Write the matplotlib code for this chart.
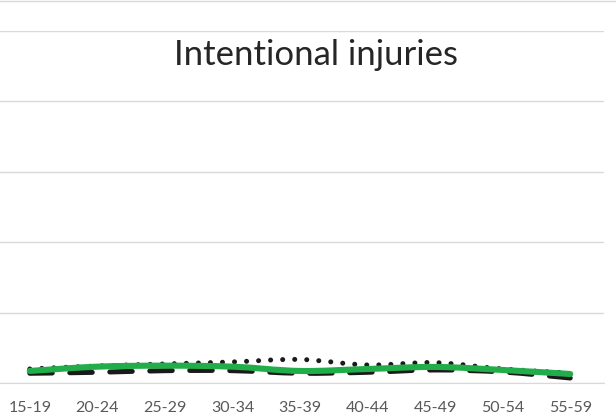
import numpy as np
import matplotlib
matplotlib.use("Agg")
import matplotlib.pyplot as plt
from matplotlib.path import Path
from matplotlib.patches import PathPatch

categories = ["15-19", "20-24", "25-29", "30-34", "35-39", "40-44", "45-49", "50-54", "55-59"]
series_dotted = [2.03, 2.46, 2.74, 3.03, 3.38, 2.60, 2.93, 2.03, 1.46]
series_dashed = [1.42, 1.56, 1.79, 1.79, 1.42, 1.56, 1.89, 1.60, 0.75]
series_green = [1.75, 2.36, 2.50, 2.36, 1.75, 2.03, 2.32, 1.89, 1.32]
y_ticks = [0, 10, 20, 30, 40, 50]
title = "Intentional injuries"


def smooth_path(xs, ys):
    xs = np.asarray(xs, float)
    ys = np.asarray(ys, float)
    n = len(xs)
    verts = [(xs[0], ys[0])]
    codes = [Path.MOVETO]
    for i in range(n - 1):
        p0 = (xs[max(i - 1, 0)], ys[max(i - 1, 0)])
        p1 = (xs[i], ys[i])
        p2 = (xs[i + 1], ys[i + 1])
        p3 = (xs[min(i + 2, n - 1)], ys[min(i + 2, n - 1)])
        t = 1 / 6
        c1 = (p1[0] + (p2[0] - p0[0]) * t, p1[1] + (p2[1] - p0[1]) * t)
        c2 = (p2[0] - (p3[0] - p1[0]) * t, p2[1] - (p3[1] - p1[1]) * t)
        verts += [c1, c2, p2]
        codes += [Path.CURVE4] * 3
    return Path(verts, codes)


fig = plt.figure(figsize=(6.16, 4.18), dpi=100)
ax = fig.add_axes([-4 / 616, 1 - 383.3 / 418, 608 / 616, (383.3 - 30.7) / 418])
x = np.arange(len(categories))
ax.set_xlim(-0.5, len(categories) - 0.5)
ax.set_ylim(0, 50)
ax.set_yticks(y_ticks)
ax.yaxis.grid(True, color="#d9d9d9", linewidth=1.0)
ax.set_axisbelow(True)
ax.tick_params(axis="y", left=False, labelleft=False)
ax.tick_params(axis="x", bottom=False, labelsize=11.5, labelcolor="#595959", pad=9)
ax.set_xticks(x)
ax.set_xticklabels(categories, family="Lato")
for s in ["top", "right", "left"]:
    ax.spines[s].set_visible(False)
ax.spines["bottom"].set_color("#d9d9d9")

p = PathPatch(smooth_path(x, series_dotted), fill=False, edgecolor="#1a1a1a",
              linewidth=3.6, linestyle=(0, (0.01, 2.4)), capstyle="round")
ax.add_patch(p)
p = PathPatch(smooth_path(x, series_dashed), fill=False, edgecolor="#1a1a1a",
              linewidth=3.6, linestyle=(0, (4.5, 3.5)), capstyle="round")
ax.add_patch(p)
p = PathPatch(smooth_path(x, series_green), fill=False, edgecolor="#22AD4B",
              linewidth=4.4, capstyle="round")
ax.add_patch(p)

# top border line of the chart frame
fig.add_artist(plt.Line2D([0, 1], [1 - 0.7 / 418, 1 - 0.7 / 418], color="#d9d9d9", linewidth=1.0))

fig.text(316 / 616, 1 - 55 / 418, title, ha="center", va="center", fontsize=25,
         family="Lato", color="#262626")

fig.savefig("out.png", dpi=100)
